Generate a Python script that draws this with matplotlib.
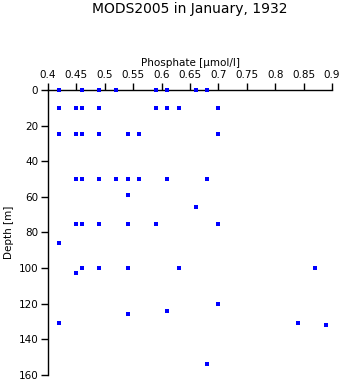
import matplotlib
matplotlib.use("Agg")
import matplotlib.pyplot as plt

# phosphate profile samples (value in umol/l, depth in m)
phosphate = [
    0.42, 0.46, 0.49, 0.52, 0.59, 0.61, 0.66, 0.68,
    0.42, 0.45, 0.46, 0.49, 0.59, 0.61, 0.63, 0.70,
    0.42, 0.45, 0.46, 0.49, 0.54, 0.56, 0.70,
    0.45, 0.46, 0.49, 0.52, 0.54, 0.56, 0.61, 0.68,
    0.54, 0.66,
    0.45, 0.46, 0.49, 0.54, 0.59, 0.70,
    0.42,
    0.46, 0.49, 0.54, 0.63, 0.87,
    0.45,
    0.70, 0.61, 0.54, 0.42, 0.84, 0.89, 0.68,
]
depth = [
    0, 0, 0, 0, 0, 0, 0, 0,
    10, 10, 10, 10, 10, 10, 10, 10,
    25, 25, 25, 25, 25, 25, 25,
    50, 50, 50, 50, 50, 50, 50, 50,
    59, 66,
    75, 75, 75, 75, 75, 75,
    86,
    100, 100, 100, 100, 100,
    103,
    120, 124, 126, 131, 131, 132, 154,
]

x_ticks = [0.4, 0.45, 0.5, 0.55, 0.6, 0.65, 0.7, 0.75, 0.8, 0.85, 0.9]
y_ticks = [0, 20, 40, 60, 80, 100, 120, 140, 160]

plt.rcParams["font.family"] = ["DejaVu Sans"]

fig = plt.figure(figsize=(3.43, 3.84), dpi=100)
ax = fig.add_axes([0.140, 0.0234, 0.828, 0.7426])

ax.plot(phosphate, depth, linestyle="none", marker="s", markersize=2.2,
        color="#0000ff", markeredgewidth=0, clip_on=False, zorder=5)

ax.set_xlim(0.4, 0.9)
ax.set_ylim(160, 0)
ax.set_xticks(x_ticks)
ax.set_xticklabels([f"{v:g}" for v in x_ticks])
ax.set_yticks(y_ticks)

# axis on top and left only
ax.xaxis.tick_top()
ax.xaxis.set_label_position("top")
for side in ["right", "bottom"]:
    ax.spines[side].set_visible(False)
for side in ["top", "left"]:
    ax.spines[side].set_linewidth(1.0)
ax.tick_params(axis="both", length=5, width=1.0, labelsize=7.5, pad=2)

ax.set_xlabel("Phosphate [µmol/l]", fontsize=7.5, labelpad=3)
ax.set_ylabel("Depth [m]", fontsize=7.5, labelpad=3)

fig.text(0.554, 0.977, "MODS2005 in January, 1932", ha="center", va="center",
         fontsize=10)

fig.savefig("out.png", dpi=100)
